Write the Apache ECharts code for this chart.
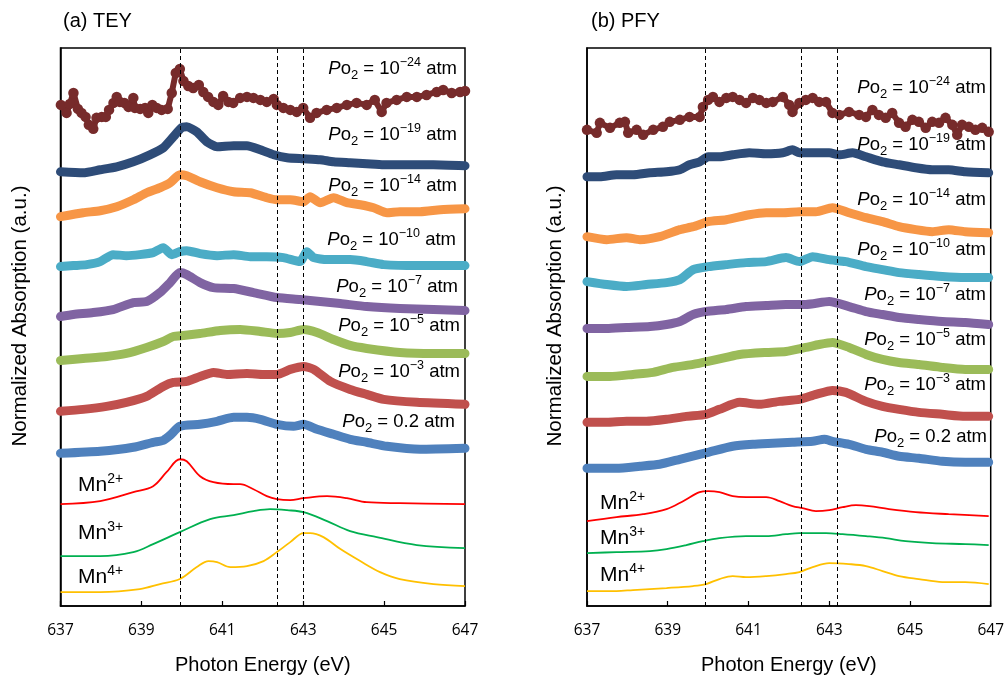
<!DOCTYPE html>
<html><head><meta charset="utf-8">
<script src="https://cdn.jsdelivr.net/npm/echarts@6/dist/echarts.min.js"></script>
<style>html,body{margin:0;padding:0;background:#fff}#c{width:1007px;height:680px}</style>
</head><body><div id="c"></div>
<script>
// ---------- Data (Photon energy eV, normalized absorption a.u., offset-stacked) ----------
const xTicks = [637, 639, 641, 643, 645, 647];
const pressureExps = ['\u221224', '\u221219', '\u221214', '\u221210', '\u22127', '\u22125', '\u22123', '0.2'];
const refNames = ['2+', '3+', '4+'];
const teyDashes = [639.95, 642.35, 643.0];
const pfyDashes = [639.94, 642.3, 643.2];

// (a) TEY
const tey_m24 = [[637.01,5.02],[637.15,4.94],[637.23,5.03],[637.32,5.14],[637.43,4.98],[637.52,4.94],[637.62,4.90],[637.70,4.82],[637.81,4.78],[637.89,4.89],[638.02,4.90],[638.12,4.90],[638.20,4.97],[638.31,5.04],[638.39,5.10],[638.47,5.05],[638.58,5.04],[638.68,5.00],[638.80,5.09],[638.84,4.99],[638.97,4.98],[639.09,4.99],[639.17,4.94],[639.27,5.02],[639.38,4.99],[639.50,4.97],[639.65,4.98],[639.75,5.14],[639.85,5.34],[639.95,5.38],[640.04,5.26],[640.16,5.21],[640.28,5.19],[640.42,5.22],[640.53,5.15],[640.65,5.10],[640.78,5.05],[640.90,5.02],[641.02,5.11],[641.15,5.05],[641.27,5.04],[641.44,5.09],[641.61,5.10],[641.77,5.09],[641.94,5.07],[642.1,5.05],[642.27,5.08],[642.35,5.02],[642.51,4.99],[642.68,4.97],[642.84,4.95],[643.00,4.99],[643.17,4.89],[643.33,4.94],[643.58,4.97],[643.83,4.99],[644.08,5.02],[644.32,5.04],[644.57,5.02],[644.77,5.07],[644.94,4.95],[645.06,5.04],[645.31,5.07],[645.56,5.10],[645.81,5.10],[646.05,5.12],[646.30,5.15],[646.46,5.17],[646.67,5.14],[646.88,5.15],[647.0,5.16]];
const tey_m19 = [[637.0,4.35],[637.56,4.34],[637.98,4.37],[638.39,4.40],[638.80,4.45],[639.21,4.52],[639.54,4.59],[639.79,4.70],[639.99,4.79],[640.12,4.80],[640.37,4.75],[640.62,4.65],[640.87,4.60],[641.28,4.61],[641.61,4.61],[641.94,4.57],[642.27,4.52],[642.6,4.49],[643.01,4.48],[643.42,4.47],[643.75,4.45],[644.16,4.44],[644.57,4.43],[644.99,4.42],[645.39,4.42],[646.22,4.42],[647.0,4.41]];
const tey_m14 = [[637.0,3.90],[637.56,3.94],[637.98,3.96],[638.39,4.00],[638.80,4.07],[639.13,4.14],[639.46,4.19],[639.71,4.24],[639.95,4.32],[640.12,4.31],[640.45,4.25],[640.87,4.19],[641.28,4.15],[641.69,4.14],[642.1,4.09],[642.35,4.07],[642.68,4.07],[643.01,4.05],[643.17,4.10],[643.42,4.04],[643.75,4.09],[644.08,4.04],[644.41,4.02],[644.74,3.99],[645.07,3.94],[645.39,3.95],[645.89,3.95],[646.39,3.97],[647.0,3.98]];
const tey_m10 = [[637.0,3.40],[637.32,3.41],[637.65,3.42],[637.98,3.45],[638.30,3.52],[638.63,3.51],[638.96,3.52],[639.29,3.54],[639.54,3.59],[639.75,3.52],[639.95,3.55],[640.12,3.56],[640.45,3.53],[640.87,3.51],[641.28,3.52],[641.69,3.50],[642.1,3.50],[642.51,3.49],[642.92,3.45],[643.09,3.55],[643.26,3.49],[643.59,3.47],[644.16,3.47],[644.57,3.45],[644.99,3.42],[645.81,3.41],[647.0,3.41]];
const tey_m7 = [[637.0,2.90],[637.32,2.92],[637.81,2.94],[638.30,2.97],[638.80,3.04],[639.13,3.05],[639.46,3.14],[639.71,3.24],[639.95,3.34],[640.12,3.32],[640.45,3.24],[640.78,3.19],[641.28,3.18],[641.77,3.14],[642.35,3.09],[642.92,3.07],[643.42,3.05],[643.92,3.03],[644.57,3.00],[645.39,2.98],[646.22,2.97],[647.0,2.96]];
const tey_m5 = [[637.0,2.46],[637.56,2.48],[638.14,2.50],[638.63,2.53],[639.13,2.59],[639.54,2.65],[639.79,2.70],[640.04,2.71],[640.45,2.73],[640.95,2.76],[641.44,2.77],[641.94,2.75],[642.35,2.73],[642.68,2.74],[643.01,2.77],[643.34,2.74],[643.75,2.67],[644.16,2.61],[644.57,2.58],[645.39,2.54],[646.22,2.53],[647.0,2.53]];
const tey_m3 = [[637.0,1.95],[637.56,1.97],[638.14,2.00],[638.63,2.04],[639.13,2.10],[639.54,2.20],[639.79,2.24],[640.12,2.25],[640.45,2.30],[640.78,2.34],[641.11,2.32],[641.61,2.33],[642.02,2.32],[642.35,2.32],[642.68,2.37],[643.01,2.40],[643.26,2.37],[643.67,2.25],[644.16,2.17],[644.57,2.12],[644.99,2.07],[645.81,2.04],[647.0,2.02]];
const tey_02 = [[637.0,1.53],[637.98,1.55],[638.80,1.59],[639.29,1.64],[639.54,1.66],[639.71,1.71],[639.95,1.80],[640.45,1.82],[640.87,1.85],[641.28,1.89],[641.61,1.89],[641.94,1.87],[642.35,1.82],[642.76,1.80],[643.01,1.82],[643.34,1.77],[643.75,1.72],[644.16,1.67],[644.57,1.64],[645.07,1.60],[645.89,1.57],[647.0,1.58]];
const tey_mn2 = [[637.0,1.02],[637.98,1.05],[638.80,1.14],[639.29,1.20],[639.62,1.34],[639.95,1.47],[640.12,1.45],[640.45,1.30],[640.78,1.24],[641.28,1.22],[641.44,1.22],[641.77,1.17],[642.1,1.10],[642.35,1.07],[642.68,1.06],[643.01,1.08],[643.59,1.10],[644.08,1.08],[644.57,1.04],[645.39,1.03],[647.0,1.02]];
const tey_mn3 = [[637.0,0.50],[637.98,0.50],[638.80,0.54],[639.29,0.62],[639.95,0.74],[640.70,0.87],[641.28,0.91],[641.77,0.95],[642.18,0.97],[642.6,0.96],[643.01,0.94],[643.59,0.85],[644.16,0.75],[644.82,0.69],[645.81,0.61],[647.0,0.58]];
const tey_mn4 = [[637.0,0.14],[637.98,0.14],[638.96,0.17],[639.46,0.22],[639.95,0.27],[640.37,0.39],[640.66,0.45],[640.87,0.44],[641.2,0.39],[641.61,0.40],[642.02,0.45],[642.35,0.54],[642.68,0.64],[643.01,0.73],[643.17,0.73],[643.5,0.69],[643.92,0.57],[644.41,0.45],[644.9,0.34],[645.39,0.27],[646.22,0.22],[647.0,0.20]];

// (b) PFY
const pfy_m24 = [[637.0,4.77],[637.24,4.74],[637.32,4.84],[637.57,4.79],[637.81,4.84],[637.94,4.85],[638.02,4.74],[638.23,4.77],[638.39,4.72],[638.64,4.77],[638.88,4.80],[639.05,4.85],[639.3,4.87],[639.54,4.90],[639.79,4.90],[639.87,5.00],[640.0,5.07],[640.12,5.10],[640.28,5.05],[640.45,5.09],[640.61,5.10],[640.78,5.07],[640.94,5.04],[641.11,5.09],[641.27,5.07],[641.44,5.04],[641.6,5.05],[641.85,5.10],[642.01,5.02],[642.09,4.95],[642.26,5.04],[642.42,5.07],[642.59,5.09],[642.75,5.05],[642.92,5.05],[643.08,4.94],[643.25,4.92],[643.49,4.95],[643.74,4.92],[643.91,4.90],[644.07,4.97],[644.23,4.92],[644.4,4.89],[644.56,4.94],[644.73,4.84],[644.89,4.80],[645.06,4.87],[645.22,4.85],[645.39,4.79],[645.55,4.85],[645.72,4.84],[645.88,4.89],[646.05,4.82],[646.17,4.72],[646.29,4.82],[646.46,4.80],[646.62,4.77],[646.79,4.79],[646.95,4.75]];
const pfy_m19 = [[637.0,4.30],[637.32,4.30],[637.73,4.32],[638.14,4.32],[638.56,4.34],[638.97,4.35],[639.3,4.37],[639.54,4.42],[639.79,4.45],[640.0,4.50],[640.28,4.50],[640.61,4.52],[641.02,4.54],[641.44,4.53],[641.85,4.54],[642.09,4.57],[642.26,4.54],[642.67,4.54],[643.0,4.54],[643.25,4.52],[643.58,4.54],[643.91,4.50],[644.32,4.45],[644.73,4.42],[645.14,4.39],[645.55,4.37],[645.96,4.37],[646.37,4.35],[646.95,4.34]];
const pfy_m14 = [[637.0,3.70],[637.49,3.67],[637.98,3.69],[638.31,3.67],[638.8,3.70],[639.3,3.77],[639.63,3.80],[640.0,3.85],[640.45,3.87],[641.02,3.92],[641.44,3.94],[641.85,3.94],[642.26,3.95],[642.67,3.95],[643.08,3.99],[643.49,3.94],[643.91,3.89],[644.32,3.85],[644.73,3.80],[645.14,3.77],[645.55,3.75],[645.96,3.77],[646.37,3.75],[646.95,3.74]];
const pfy_m10 = [[637.0,3.25],[637.49,3.22],[637.98,3.20],[638.47,3.22],[638.97,3.24],[639.3,3.27],[639.63,3.37],[640.0,3.40],[640.45,3.42],[640.94,3.44],[641.44,3.45],[641.93,3.49],[642.26,3.45],[642.59,3.50],[643.0,3.47],[643.41,3.45],[643.91,3.40],[644.32,3.37],[644.73,3.34],[645.22,3.32],[645.8,3.30],[646.37,3.29],[646.95,3.29]];
const pfy_m7 = [[637.0,2.78],[637.49,2.78],[637.98,2.79],[638.56,2.80],[638.97,2.82],[639.3,2.85],[639.63,2.92],[639.95,2.95],[640.45,2.97],[640.94,3.00],[641.44,3.01],[641.93,3.02],[642.42,3.02],[643.0,3.05],[643.49,3.00],[643.91,2.95],[644.32,2.92],[644.73,2.89],[645.22,2.87],[645.8,2.85],[646.37,2.84],[646.95,2.82]];
const pfy_m5 = [[637.0,2.30],[637.57,2.30],[638.14,2.32],[638.64,2.34],[639.13,2.39],[639.63,2.42],[640.0,2.45],[640.45,2.49],[640.78,2.52],[641.44,2.54],[641.93,2.55],[642.42,2.59],[642.75,2.62],[643.08,2.64],[643.49,2.59],[643.91,2.52],[644.32,2.47],[644.73,2.44],[645.22,2.42],[645.8,2.39],[646.37,2.37],[646.95,2.37]];
const pfy_m3 = [[637.0,1.84],[637.49,1.84],[637.98,1.85],[638.47,1.85],[638.97,1.87],[639.46,1.90],[639.95,1.92],[640.28,1.97],[640.78,2.04],[641.27,2.02],[641.77,2.05],[642.26,2.07],[642.67,2.12],[643.08,2.16],[643.41,2.14],[643.91,2.05],[644.32,2.00],[644.73,1.97],[645.22,1.94],[645.8,1.92],[646.37,1.90],[646.95,1.90]];
const pfy_02 = [[637.0,1.38],[637.73,1.38],[638.31,1.40],[638.8,1.42],[639.3,1.47],[639.79,1.52],[640.0,1.54],[640.61,1.60],[641.11,1.62],[641.6,1.63],[642.09,1.64],[642.59,1.65],[642.88,1.67],[643.08,1.65],[643.49,1.62],[643.91,1.57],[644.32,1.54],[644.73,1.50],[645.22,1.48],[645.8,1.45],[646.37,1.44],[646.95,1.44]];
const pfy_mn2 = [[637.0,0.85],[637.73,0.89],[638.39,0.92],[638.97,0.97],[639.38,1.05],[639.79,1.14],[640.0,1.15],[640.28,1.14],[640.61,1.10],[640.94,1.09],[641.44,1.09],[641.77,1.05],[642.09,1.00],[642.34,0.98],[642.67,0.95],[643.0,0.96],[643.33,0.99],[643.66,1.01],[643.99,1.00],[644.48,0.97],[645.14,0.94],[645.96,0.92],[646.95,0.90]];
const pfy_mn3 = [[637.0,0.53],[637.73,0.54],[638.56,0.55],[638.97,0.57],[639.46,0.61],[639.87,0.65],[640.28,0.68],[640.94,0.70],[641.44,0.70],[641.93,0.72],[642.26,0.73],[642.92,0.73],[643.33,0.72],[643.91,0.70],[644.4,0.68],[644.89,0.65],[645.55,0.63],[646.37,0.62],[646.95,0.61]];
const pfy_mn4 = [[637.0,0.15],[637.73,0.15],[638.14,0.16],[638.97,0.18],[639.63,0.20],[639.95,0.22],[640.28,0.27],[640.61,0.30],[640.94,0.29],[641.44,0.30],[641.93,0.32],[642.26,0.34],[642.59,0.39],[643.0,0.43],[643.49,0.42],[643.91,0.40],[644.32,0.35],[644.73,0.30],[645.22,0.27],[645.8,0.24],[646.37,0.24],[646.95,0.22]];

const dataColors = ['#772B2B', '#2E4C78', '#F79646', '#4BACC6', '#8064A2', '#9BBB59', '#C0504D', '#4F81BD'];
const refColors = ['#FF0000', '#00B050', '#FFC000'];

// ---------- Chart ----------
const chart = echarts.init(document.getElementById('c'), null, {renderer: 'canvas'});
const FONT = 'Liberation Sans, Arial, sans-serif';
const TICKFONT = 'Open Sans, Noto Sans, sans-serif';

function makeX(gridIndex) {
  return {
    type: 'value', gridIndex, min: 637, max: 647, interval: 2,
    name: 'Photon Energy (eV)', nameLocation: 'middle', nameGap: 49,
    nameTextStyle: {fontFamily: FONT, fontSize: 20, color: '#000'},
    axisLine: {show: true, lineStyle: {color: '#000', width: 1.5}},
    axisTick: {show: true, inside: true, length: 5, lineStyle: {color: '#000', width: 1.2}},
    axisLabel: {show: true, margin: 17, fontFamily: TICKFONT, fontSize: 15.5, color: '#000', showMinLabel: true, showMaxLabel: true},
    splitLine: {show: false}
  };
}
function makeY(gridIndex) {
  return {
    type: 'value', gridIndex, min: 0, max: 5.59,
    axisLine: {show: true, lineStyle: {color: '#000', width: 1.5}},
    axisTick: {show: false}, axisLabel: {show: false}, splitLine: {show: false}
  };
}

const series = [];
function addPanel(idx, sets, refs, dashes) {
  sets.forEach((d, i) => {
    if (i === 0) {
      series.push({type: 'line', xAxisIndex: idx, yAxisIndex: idx, data: d, symbol: 'circle', symbolSize: 10.5, showAllSymbol: true,
        itemStyle: {color: dataColors[i]}, lineStyle: {color: dataColors[i], width: 6, join: 'round'}, z: 3, silent: true});
    } else {
      series.push({type: 'line', xAxisIndex: idx, yAxisIndex: idx, data: d, showSymbol: false, smooth: 0.2,
        lineStyle: {color: dataColors[i], width: 9, cap: 'round', join: 'round'}, z: 3, silent: true});
    }
  });
  refs.forEach((d, i) => {
    series.push({type: 'line', xAxisIndex: idx, yAxisIndex: idx, data: d, showSymbol: false, smooth: 0.35,
      lineStyle: {color: refColors[i], width: 1.8}, z: 3, silent: true});
  });
  series.push({type: 'line', xAxisIndex: idx, yAxisIndex: idx, data: [[637, -1]], showSymbol: false,
    lineStyle: {opacity: 0}, z: 4, silent: true,
    markLine: {silent: true, symbol: ['none', 'none'], label: {show: false},
      lineStyle: {color: '#000', type: [4, 3], width: 1},
      data: dashes.map(v => ({xAxis: v}))}});
}
addPanel(0, [tey_m24, tey_m19, tey_m14, tey_m10, tey_m7, tey_m5, tey_m3, tey_02], [tey_mn2, tey_mn3, tey_mn4], teyDashes);
addPanel(1, [pfy_m24, pfy_m19, pfy_m14, pfy_m10, pfy_m7, pfy_m5, pfy_m3, pfy_02], [pfy_mn2, pfy_mn3, pfy_mn4], pfyDashes);

const rich = {
  it: {fontFamily: FONT, fontSize: 18.5, fontStyle: 'italic', lineHeight: 26, verticalAlign: 'middle', color: '#000'},
  n: {fontFamily: FONT, fontSize: 18.5, lineHeight: 26, verticalAlign: 'middle', color: '#000'},
  sub: {fontFamily: FONT, fontSize: 13, lineHeight: 14, verticalAlign: 'bottom', color: '#000'},
  sup: {fontFamily: FONT, fontSize: 12.5, lineHeight: 20, verticalAlign: 'top', color: '#000'},
  mn: {fontFamily: FONT, fontSize: 21, lineHeight: 26, verticalAlign: 'middle', color: '#000'},
  msup: {fontFamily: FONT, fontSize: 14, lineHeight: 23, verticalAlign: 'top', color: '#000'}
};
function poText(e) {
  return e === '0.2' ? '{it|P}{n|o}{sub|2}{n| = 0.2 atm}' : '{it|P}{n|o}{sub|2}{n| = 10}{sup|' + e + '}{n| atm}';
}
const graphics = [];
const leftLabelPos = [[457,69],[457,135],[457,186],[456,240],[458,287],[460,326],[460,372],[455,422]];
const rightLabelPos = [[986,88],[986,145],[986,200],[986,250],[986,295],[986,340],[986,385],[987,437]];
pressureExps.forEach((e, i) => {
  [leftLabelPos, rightLabelPos].forEach(pos => {
    graphics.push({type: 'text', x: pos[i][0], y: pos[i][1], z: 100,
      style: {text: poText(e), rich, align: 'right', verticalAlign: 'middle', fill: '#000'}});
  });
});
const mnLeft = [[78,485],[78,533],[78,577]];
const mnRight = [[600,503],[600,538],[600,575]];
refNames.forEach((r, i) => {
  [mnLeft, mnRight].forEach(pos => {
    graphics.push({type: 'text', x: pos[i][0], y: pos[i][1], z: 100,
      style: {text: '{mn|Mn}{msup|' + r + '}', rich, align: 'left', verticalAlign: 'middle', fill: '#000'}});
  });
});
graphics.push({type: 'text', x: 63, y: 21, style: {text: '(a) TEY', font: '20px ' + FONT, fill: '#000', verticalAlign: 'middle'}});
graphics.push({type: 'text', x: 591, y: 21, style: {text: '(b) PFY', font: '20px ' + FONT, fill: '#000', verticalAlign: 'middle'}});
[[20, 316], [555, 316]].forEach(p => {
  graphics.push({type: 'text', x: p[0], y: p[1], rotation: Math.PI / 2,
    style: {text: 'Normalized Absorption (a.u.)', font: '20.5px ' + FONT, fill: '#000', align: 'center', verticalAlign: 'middle'}});
});

chart.setOption({
  animation: false,
  backgroundColor: '#fff',
  grid: [
    {left: 60.5, top: 48, width: 404.5, height: 559, show: true, borderColor: '#000', borderWidth: 1.5},
    {left: 587, top: 48, width: 405, height: 559, show: true, borderColor: '#000', borderWidth: 1.5}
  ],
  xAxis: [makeX(0), makeX(1)],
  yAxis: [makeY(0), makeY(1)],
  series,
  graphic: graphics
});
</script>
</body></html>
